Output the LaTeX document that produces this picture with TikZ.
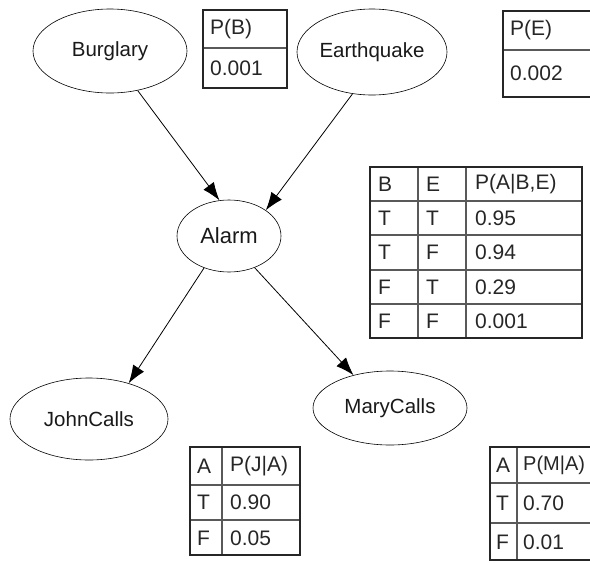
\documentclass[tikz,border=0pt]{standalone}
\usepackage{fontspec}
\setmainfont{Liberation Sans}
\usetikzlibrary{shapes.geometric,arrows.meta}
\begin{document}
\begin{tikzpicture}[x=1pt,y=-1pt,
  var/.style={draw,ellipse,line width=0.6pt,inner sep=0pt,font=\fontsize{20.5}{22}\selectfont,text=black!90},
  edge/.style={-{Latex[length=18pt,width=13pt]},line width=0.8pt},
  outer/.style={line width=2.6pt,draw=black!85},
  innerln/.style={line width=1.2pt,draw=black!65},
  cell/.style={font=\fontsize{21}{23}\selectfont,anchor=west,inner sep=0pt,text=black!85}]
\useasboundingbox (0,0) rectangle (590,563);
\clip (0,0) rectangle (590,563);

% variables
\node[var,minimum width=154pt,minimum height=84pt] (b) at (110,51) {Burglary};
\node[var,minimum width=150pt,minimum height=86pt] (e) at (372,52) {Earthquake};
\node[var,minimum width=104pt,minimum height=72pt,font=\fontsize{22}{24}\selectfont] (a) at (229,236) {Alarm};
\node[var,minimum width=158pt,minimum height=82pt] (j) at (89,419) {JohnCalls};
\node[var,minimum width=154pt,minimum height=74pt] (m) at (390,408) {MaryCalls};

% edges
\draw[edge] (b.-55) -- (a.105);
\draw[edge] (e.-115) -- (a.35);
\draw[edge] (a.-128) -- (j.42);
\draw[edge] (a.-51) -- (m.138);

% P(B)
\draw[innerln] (203,48) -- (287,48);
\draw[outer] (203,10) rectangle (287,88);
\node[cell] (pb1) at (210,29) {P(B)};
\node[cell] (pb2) at (210,68) {0.001};

% P(E)
\draw[innerln] (503,50) -- (600,50);
\draw[outer] (503,11) rectangle (600,97);
\node[cell] (pe1) at (510,30) {P(E)};
\node[cell] (pe2) at (510,73) {0.002};

% P(A|B,E)
\foreach \yy in {201,235,270,304} \draw[innerln] (370,\yy) -- (582,\yy);
\draw[innerln] (418,167) -- (418,338);
\draw[innerln] (466,167) -- (466,338);
\draw[outer] (370,167) rectangle (582,338);
\node[cell] (h1) at (378,184) {B};
\node[cell] (h2) at (426,184) {E};
\node[cell] (h3) at (475,184) {P(A|B,E)};
\node[cell] (r11) at (378,218) {T};
\node[cell] (r12) at (426,218) {T};
\node[cell] (r13) at (475,218) {0.95};
\node[cell] (r21) at (378,252) {T};
\node[cell] (r22) at (426,252) {F};
\node[cell] (r23) at (475,252) {0.94};
\node[cell] (r31) at (378,287) {F};
\node[cell] (r32) at (426,287) {T};
\node[cell] (r33) at (475,287) {0.29};
\node[cell] (r41) at (378,321) {F};
\node[cell] (r42) at (426,321) {F};
\node[cell] (r43) at (475,321) {0.001};

% P(J|A)
\draw[innerln] (190,485) -- (300,485);
\draw[innerln] (190,520) -- (300,520);
\draw[innerln] (222,447) -- (222,555);
\draw[outer] (190,447) rectangle (300,555);
\node[cell] (j1) at (197,466) {A};
\node[cell] (j2) at (230,466) {P(J|A)};
\node[cell] (j3) at (197,502) {T};
\node[cell] (j4) at (230,502) {0.90};
\node[cell] (j5) at (197,538) {F};
\node[cell] (j6) at (230,538) {0.05};

% P(M|A)
\draw[innerln] (490,483) -- (600,483);
\draw[innerln] (490,523) -- (600,523);
\draw[innerln] (517,447) -- (517,560);
\draw[outer] (490,447) rectangle (600,560);
\node[cell] (m1) at (496,465) {A};
\node[cell] (m2) at (523,465) {\fontsize{20}{22}\selectfont P(M|A)};
\node[cell] (m3) at (496,503) {T};
\node[cell] (m4) at (523,503) {0.70};
\node[cell] (m5) at (496,542) {F};
\node[cell] (m6) at (523,542) {0.01};
\end{tikzpicture}
\end{document}
